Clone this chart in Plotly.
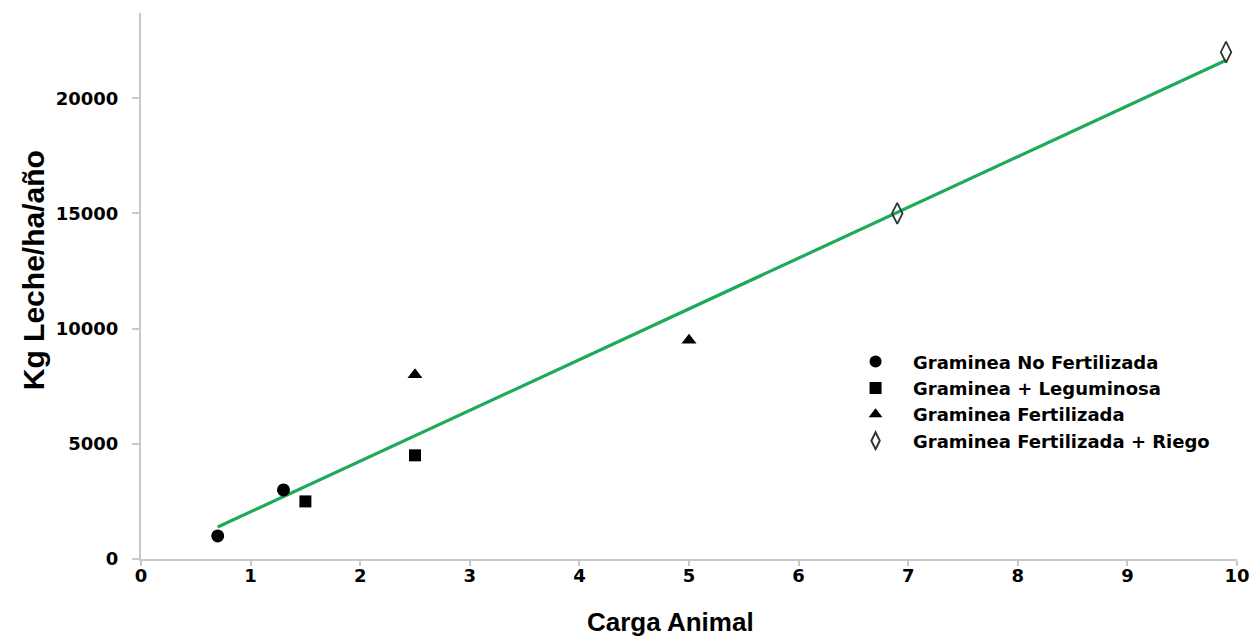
import numpy as np
import plotly.graph_objects as go

# Data
nf_x = [0.7, 1.3]
nf_y = [1000, 3000]
leg_x = [1.5, 2.5]
leg_y = [2500, 4500]
fert_x = [2.5, 5.0]
fert_y = [8000, 9500]
riego_x = [6.9, 9.9]
riego_y = [15000, 22000]

names = ["Graminea No Fertilizada", "Graminea + Leguminosa",
         "Graminea Fertilizada", "Graminea Fertilizada + Riego"]

all_x = np.array(nf_x + leg_x + fert_x + riego_x)
all_y = np.array(nf_y + leg_y + fert_y + riego_y)
slope, intercept = np.polyfit(all_x, all_y, 1)
tx = np.array([all_x.min(), all_x.max()])
ty = slope * tx + intercept

fig = go.Figure()
fig.add_trace(go.Scatter(x=tx, y=ty, mode="lines",
                         line=dict(color="#1DAA5A", width=3.2),
                         showlegend=False, hoverinfo="skip"))
fig.add_trace(go.Scatter(x=nf_x, y=nf_y, mode="markers", name=names[0],
                         marker=dict(symbol="circle", size=13, color="black")))
fig.add_trace(go.Scatter(x=leg_x, y=leg_y, mode="markers", name=names[1],
                         marker=dict(symbol="square", size=12, color="black")))
fig.add_trace(go.Scatter(x=fert_x, y=fert_y, mode="markers", name=names[2],
                         marker=dict(symbol="triangle-up", size=13, color="black")))
fig.add_trace(go.Scatter(x=riego_x, y=riego_y, mode="markers", name=names[3],
                         marker=dict(symbol="diamond-tall-open", size=15,
                                     color="#333333", line=dict(width=1.8))))

FONT = "Liberation Sans, Arial, sans-serif"
axis_font = dict(family="DejaVu Sans, sans-serif", size=18, color="black", weight="bold")
fig.update_layout(
    width=1253, height=640,
    paper_bgcolor="white", plot_bgcolor="white",
    margin=dict(l=141, r=16, t=13, b=81),
    font=dict(family=FONT),
    xaxis=dict(range=[0, 10], dtick=1, showgrid=False, zeroline=False,
               showline=True, linecolor="#c8c8c8", linewidth=2,
               ticks="outside", ticklen=5, tickcolor="#c8c8c8", tickwidth=1.5,
               tickfont=axis_font, ticklabelstandoff=-6, automargin=False),
    yaxis=dict(range=[0, 23700], tickvals=[0, 5000, 10000, 15000, 20000],
               tickformat="d", showgrid=False, zeroline=False,
               showline=True, linecolor="#c8c8c8", linewidth=2,
               ticks="outside", ticklen=7, tickcolor="#c8c8c8", tickwidth=1.5,
               tickfont=axis_font, ticklabelstandoff=10, automargin=False),
    legend=dict(x=0.636, y=0.395, xanchor="left", yanchor="top",
                bgcolor="rgba(0,0,0,0)",
                font=dict(family="DejaVu Sans, sans-serif", size=18, color="black",
                          weight="bold"),
                itemsizing="constant", itemwidth=65, tracegroupgap=0),
    annotations=[
        dict(text="<b>Carga Animal</b>", xref="paper", yref="paper",
             x=0.4827, y=-0.115, xanchor="center", yanchor="middle",
             showarrow=False, font=dict(size=26, color="black", family=FONT)),
        dict(text="<b>Kg Leche/ha/año</b>", xref="paper", yref="paper",
             x=-0.0985, y=0.529, xanchor="center", yanchor="middle",
             textangle=-90, showarrow=False,
             font=dict(size=30, color="black", family=FONT)),
    ],
)

fig.write_html("out.html")
